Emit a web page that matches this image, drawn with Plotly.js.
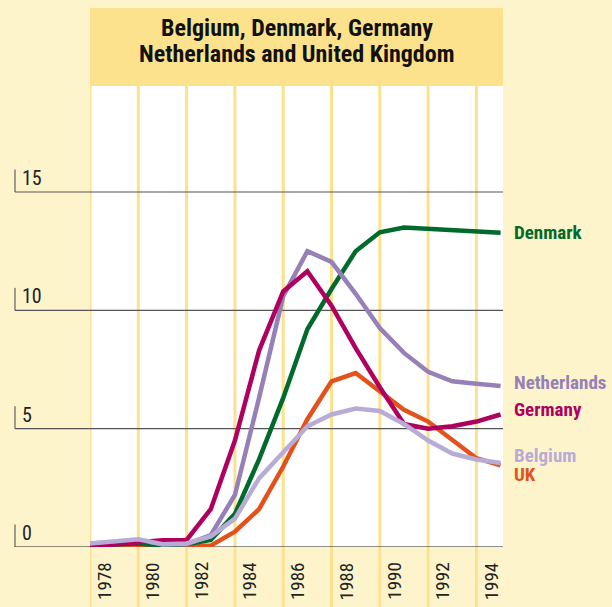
<!DOCTYPE html>
<html><head><meta charset="utf-8">
<script src="https://cdn.plot.ly/plotly-3.0.1.min.js"></script>
<style>html,body{margin:0;padding:0;background:#fef4cc;}#chart{width:612px;height:607px;}</style>
</head><body><div id="chart"></div>
<script>
const years = [1978,1979,1980,1981,1982,1983,1984,1985,1986,1987,1988,1989,1990,1991,1992,1993,1994,1995];
const tickYears = [1978,1980,1982,1984,1986,1988,1990,1992,1994];
const yTicks = [0,5,10,15];
const seriesNames = ["UK","Belgium","Denmark","Netherlands","Germany"];
const uk          = [0,0,0,0,0.02,0.06,0.65,1.6,3.4,5.4,7.0,7.35,6.6,5.8,5.3,4.5,3.75,3.45];
const belgium     = [0.15,0.25,0.33,0.12,0.15,0.45,1.2,2.9,4.0,5.1,5.6,5.85,5.75,5.2,4.5,3.95,3.7,3.55];
const denmark     = [0.05,0.1,0.15,0.05,0.12,0.3,1.4,3.7,6.3,9.2,10.9,12.5,13.3,13.5,13.45,13.4,13.35,13.28];
const netherlands = [0.15,0.2,0.3,0.12,0.12,0.5,2.2,6.3,10.6,12.5,12.05,10.7,9.25,8.2,7.4,7.0,6.9,6.8];
const germany     = [0.05,0.1,0.2,0.28,0.3,1.6,4.5,8.3,10.8,11.65,10.2,8.4,6.75,5.2,5.0,5.1,5.3,5.6];
const titleLines = ["Belgium, Denmark, Germany","Netherlands and United Kingdom"];

const colors = {UK:"#e4521c", Belgium:"#b8acd6", Denmark:"#006a2c", Netherlands:"#9580b8", Germany:"#b0005f"};
const labelY = {UK:3.08, Belgium:3.85, Denmark:13.3, Netherlands:6.95, Germany:5.8};
const dataMap = {UK:uk, Belgium:belgium, Denmark:denmark, Netherlands:netherlands, Germany:germany};
const drawOrder = ["UK","Denmark","Netherlands","Germany","Belgium"];

const FONT = "'Roboto Condensed', 'DejaVu Sans Condensed', sans-serif";
const lineCol = "#fce28c";

const traces = drawOrder.map(n => ({
  x: years, y: dataMap[n], name: n, type: "scatter", mode: "lines",
  line: {color: colors[n], width: 4.5}, hoverinfo: "skip"
}));

const Y_TOP = 19.48;
const shapes = [];
shapes.push({type:"rect", xref:"paper", yref:"paper", x0:0, x1:1, y0:1, y1:1.169, fillcolor:lineCol, line:{width:0}, layer:"below"});
tickYears.forEach(yr => shapes.push({type:"line", xref:"x", yref:"paper", x0:yr, x1:yr, y0:-0.14, y1:1, line:{color:lineCol, width:3}, layer:"below"}));
const leftX = -0.1816;
yTicks.forEach(v => {
  shapes.push({type:"line", xref:"paper", yref:"y", x0:leftX, x1:1, y0:v, y1:v, line:{color: v===0 ? "#222" : "#555", width: v===0 ? 1.2 : 1.1}, layer:"below"});
  shapes.push({type:"line", xref:"paper", yref:"y", x0:leftX, x1:leftX, y0:v, y1:v+0.95, line:{color:"#444", width:1}, layer:"below"});
});

const annotations = [];
titleLines.forEach((t,i) => annotations.push({xref:"paper", yref:"paper", x:0.5, y:1.126 - i*0.057, text:"<b>"+t+"</b>", showarrow:false, xanchor:"center", yanchor:"middle", font:{family:FONT, size:24, color:"#111"}}));
yTicks.forEach(v => annotations.push({xref:"paper", yref:"y", x:-0.169, y:v, text:String(v), showarrow:false, xanchor:"left", yanchor:"bottom", yshift:0, font:{family:FONT, size:20, color:"#222"}}));
tickYears.forEach(yr => annotations.push({xref:"x", yref:"paper", x:yr+0.62, y:-0.028, text:String(yr), textangle:-90, showarrow:false, xanchor:"center", yanchor:"top", font:{family:FONT, size:19, color:"#222"}}));
seriesNames.forEach(n => annotations.push({xref:"paper", yref:"y", x:1.022, y:labelY[n], text:"<b>"+n+"</b>", showarrow:false, xanchor:"left", yanchor:"middle", font:{family:FONT, size:19, color:colors[n]}}));

const layout = {
  width:612, height:607,
  margin:{l:90, r:109, t:86, b:60},
  paper_bgcolor:"#fef4cc", plot_bgcolor:"#ffffff",
  showlegend:false,
  xaxis:{range:[1978,1995.1], showgrid:false, zeroline:false, showticklabels:false, showline:false, ticks:""},
  yaxis:{range:[0,Y_TOP], showgrid:false, zeroline:false, showticklabels:false, showline:false, ticks:""},
  shapes: shapes, annotations: annotations
};
Plotly.newPlot("chart", traces, layout, {displayModeBar:false, staticPlot:true});
</script></body></html>
